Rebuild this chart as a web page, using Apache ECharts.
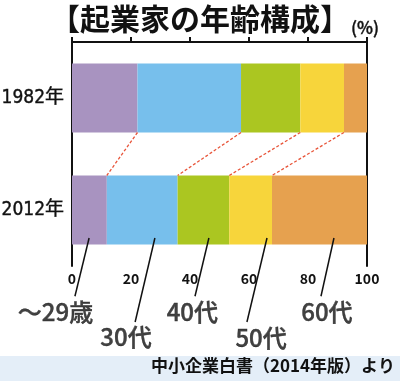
<!DOCTYPE html>
<html>
<head>
<meta charset="utf-8">
<style>
  html, body { margin: 0; padding: 0; background: #ffffff; }
  #chart { width: 400px; height: 381px; }
</style>
<script src="https://cdn.jsdelivr.net/npm/echarts@6/dist/echarts.min.js"></script>
</head>
<body>
<div id="chart"></div>
<script>
// ---- data ----
const years = ['1982年', '2012年'];
const ageGroups = ['〜29歳', '30代', '40代', '50代', '60代'];
const share1982 = [22.2, 35.1, 20.1, 14.8, 7.8];
const share2012 = [11.8, 24.0, 17.5, 14.5, 32.2];
const xTicks = [0, 20, 40, 60, 80, 100];
const titleText = '【起業家の年齢構成】';
const unitText = '(%)';
const sourceText = '中小企業白書（2014年版）より';

// ---- styling / layout ----
const colors = ['#A893C0', '#77BFEC', '#ABC621', '#F7D53B', '#E6A14F'];
const FONT = '"Noto Sans CJK JP", "Noto Sans", sans-serif';
const GRID = { left: 72, right: 33, top: 42, bottom: 115 };
const BAR_W = 69;
const plotH = 381 - GRID.top - GRID.bottom;
const bandPx = plotH / years.length;
const halfBar = BAR_W / 2 / bandPx; // in band units on helper axis

function cumulative(arr) {
  const out = []; let s = 0;
  for (let i = 0; i < arr.length - 1; i++) { s += arr[i]; out.push(s); }
  return out;
}
const cum1982 = cumulative(share1982);
const cum2012 = cumulative(share2012);

// callout layout (axis units: x in %, y in band units of helper axis)
const callouts = [
  { from: [5.8, 1.75], to: [1.0, 2.27], label: [-5.6, 2.41] },
  { from: [28.1, 1.75], to: [21.4, 2.5], label: [18.3, 2.63] },
  { from: [46.4, 1.75], to: [41.7, 2.27], label: [40.8, 2.41] },
  { from: [66.1, 1.75], to: [59.3, 2.5], label: [64.1, 2.64] },
  { from: [88.8, 1.75], to: [84.4, 2.27], label: [86.4, 2.41] }
];

const barSeries = ageGroups.map((g, i) => ({
  name: g,
  type: 'bar',
  stack: 'total',
  barWidth: BAR_W,
  xAxisIndex: 0,
  yAxisIndex: 0,
  itemStyle: { color: colors[i] },
  data: [share1982[i], share2012[i]],
  silent: true
}));

const option = {
  animation: false,
  backgroundColor: '#ffffff',
  title: [
    {
      text: titleText, left: 45, top: -1,
      textStyle: { fontFamily: FONT, fontSize: 30, fontWeight: 'bold', color: '#111' }
    },
    {
      text: unitText, left: 346, top: 14,
      textStyle: { fontFamily: FONT, fontSize: 17, fontWeight: 500, color: '#111',
        textBorderColor: '#111', textBorderWidth: 0.4 }
    },
    {
      text: sourceText, right: 0, bottom: 2,
      textStyle: { fontFamily: FONT, fontSize: 17, fontWeight: 'bold', color: '#111' }
    }
  ],
  graphic: [
    { type: 'rect', left: 0, bottom: 0, z: -10, shape: { width: 400, height: 25 }, style: { fill: '#E4EEF8' } }
  ],
  grid: { left: GRID.left, right: GRID.right, top: GRID.top, bottom: GRID.bottom, outerBoundsMode: 'none', containLabel: false },
  xAxis: {
    type: 'value', min: xTicks[0], max: xTicks[xTicks.length - 1], interval: xTicks[1] - xTicks[0],
    axisLine: { show: true, lineStyle: { color: '#111', width: 2 } },
    axisTick: { show: true, inside: true, length: 5, lineStyle: { color: '#111', width: 2 } },
    axisLabel: { margin: 6, fontFamily: FONT, fontSize: 14, fontWeight: 'bold', color: '#111' },
    splitLine: { show: false }
  },
  yAxis: [
    {
      type: 'category', data: years, inverse: true,
      axisLine: { show: true, lineStyle: { color: '#111', width: 2 } },
      axisTick: { show: false },
      axisLabel: { margin: 8, fontFamily: '"DejaVu Sans Condensed", "Noto Sans CJK JP", sans-serif', fontSize: 19, color: '#111',
        textBorderColor: '#111', textBorderWidth: 0.4 }
    },
    {
      type: 'value', min: 0, max: years.length, inverse: true, position: 'right',
      axisLine: { show: true, onZero: false, lineStyle: { color: '#111', width: 2 } },
      axisTick: { show: false }, axisLabel: { show: false }, splitLine: { show: false }
    }
  ],
  series: barSeries.concat([
    {
      type: 'lines', coordinateSystem: 'cartesian2d', xAxisIndex: 0, yAxisIndex: 1,
      silent: true, clip: false, z: 5,
      lineStyle: { color: '#E8553A', width: 1.3, type: [3, 2], opacity: 1 },
      data: cum1982.map((v, i) => ({ coords: [[v, 0.5 + halfBar], [cum2012[i], 1.5 - halfBar]] }))
    },
    {
      type: 'lines', coordinateSystem: 'cartesian2d', xAxisIndex: 0, yAxisIndex: 1,
      silent: true, clip: false, z: 5,
      lineStyle: { color: '#111', width: 1.5, type: 'solid', opacity: 1 },
      data: callouts.map(c => ({ coords: [c.from, c.to] }))
    },
    {
      type: 'scatter', xAxisIndex: 0, yAxisIndex: 1, symbolSize: 0, silent: true, clip: false,
      data: callouts.map(c => c.label),
      label: {
        show: true, position: 'inside',
        formatter: p => ageGroups[p.dataIndex],
        fontFamily: FONT, fontSize: 24, fontWeight: 500, color: '#111',
        textBorderColor: '#111', textBorderWidth: 0.4
      }
    }
  ])
};

const chart = echarts.init(document.getElementById('chart'), null, { renderer: 'canvas' });
chart.setOption(option);
</script>
</body>
</html>
